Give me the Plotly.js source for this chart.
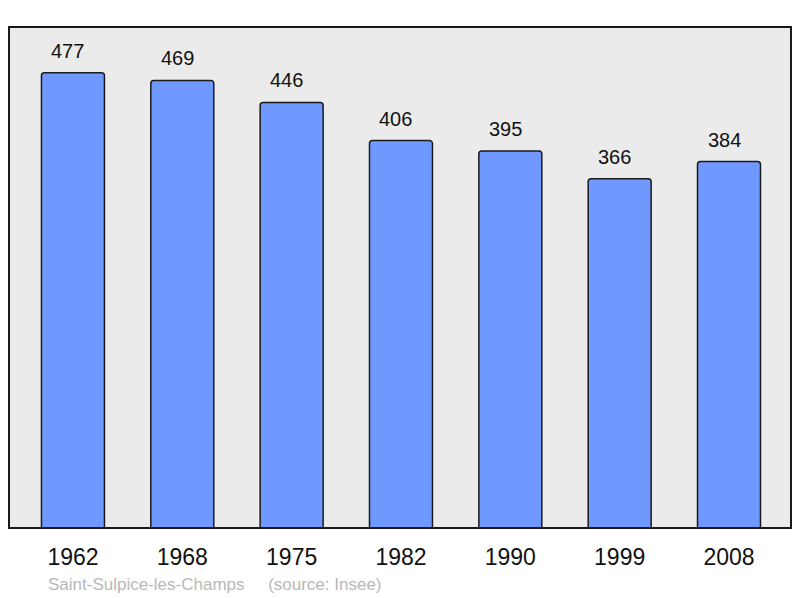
<!DOCTYPE html>
<html>
<head>
<meta charset="utf-8">
<script src="https://cdn.plot.ly/plotly-3.0.1.min.js"></script>
<style>html,body{margin:0;padding:0;background:#fff;}#chart{width:800px;height:598px;}</style>
</head>
<body>
<div id="chart"></div>
<script>
const years = ["1962", "1968", "1975", "1982", "1990", "1999", "2008"];
const population = [477, 469, 446, 406, 395, 366, 384];
const placeName = "Saint-Sulpice-les-Champs";
const sourceText = "(source: Insee)";

const trace = {
  type: "bar",
  x: years,
  y: population,
  width: 0.576,
  marker: {color: "#7099ff", line: {color: "#1a1a1a", width: 1.5}, cornerradius: 3},
  hoverinfo: "none"
};

const annotations = years.map((yr, i) => ({
  x: i, y: population[i], xref: "x", yref: "y",
  text: String(population[i]), showarrow: false,
  yanchor: "bottom", yshift: 9, xshift: -5,
  font: {family: "Liberation Sans, Arial, sans-serif", size: 20, color: "#111"}
}));
annotations.push({
  xref: "paper", yref: "paper", x: 0.0473, y: -0.112,
  xanchor: "left", yanchor: "middle", showarrow: false,
  text: placeName + "&nbsp;&nbsp;&nbsp;&nbsp;&nbsp;" + sourceText,
  font: {family: "Liberation Sans, Arial, sans-serif", size: 17, color: "#b8b8b8"}
});

const layout = {
  width: 800, height: 598,
  margin: {l: 9, r: 9, t: 27, b: 70},
  paper_bgcolor: "#ffffff",
  plot_bgcolor: "#ebebeb",
  showlegend: false,
  xaxis: {
    type: "category", range: [-0.585, 6.567],
    showgrid: false, zeroline: false, showline: false, ticks: "",
    ticklabelstandoff: 13,
    tickfont: {family: "Liberation Sans, Arial, sans-serif", size: 23, color: "#111"}
  },
  yaxis: {
    range: [0, 525], showgrid: false, zeroline: false, showline: false,
    showticklabels: false, ticks: ""
  },
  shapes: [{
    type: "rect", xref: "paper", yref: "paper", x0: 0, x1: 1, y0: 0, y1: 1,
    line: {color: "#1a1a1a", width: 2}, fillcolor: "rgba(0,0,0,0)", layer: "above"
  }],
  annotations: annotations
};

Plotly.newPlot("chart", [trace], layout, {staticPlot: true, displayModeBar: false});
</script>
</body>
</html>
